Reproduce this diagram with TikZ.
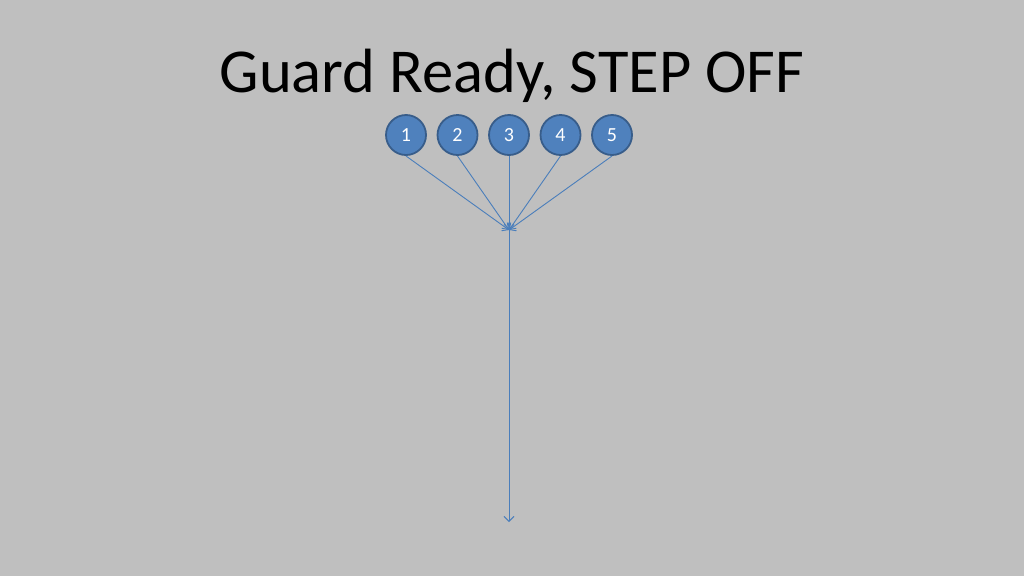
\documentclass[tikz,border=0pt]{standalone}
\usepackage{fontspec}
\setmainfont{Carlito}
\usetikzlibrary{arrows.meta}
\definecolor{bg}{HTML}{BFBFBF}
\definecolor{pfill}{HTML}{4F81BD}
\definecolor{pline}{HTML}{385D8A}
\definecolor{arr}{HTML}{4A7EBB}
\tikzset{
  player/.style={circle, fill=pfill, draw=pline, line width=1.8pt, minimum size=40pt, inner sep=0pt, text=white, font=\fontsize{20}{20}\selectfont},
  route/.style={draw=arr, line width=0.9pt, -{Straight Barb[length=5pt,width=10pt]}}
}
\begin{document}
\begin{tikzpicture}[x=1pt,y=-1pt]
\fill[bg] (0,0) rectangle (1024,576);
\useasboundingbox (0,0) rectangle (1024,576);
\node[font=\fontsize{62.5}{62.5}\selectfont, anchor=base, inner sep=0pt] (title) at (512,92) {Guard Ready, STEP OFF};
\node[player] (p1) at (406,135) {1};
\node[player] (p2) at (457.5,135) {2};
\node[player] (p3) at (509,135) {3};
\node[player] (p4) at (560.5,135) {4};
\node[player] (p5) at (612,135) {5};
\coordinate (m) at (509,230);
\coordinate (e) at (509,522);
\draw[route] (p1.center) ++(0,21) -- (m);
\draw[route] (p2.center) ++(0,21) -- (m);
\draw[route] (p3.south) -- (m);
\draw[route] (p4.center) ++(0,21) -- (m);
\draw[route] (p5.center) ++(0,21) -- (m);
\draw[route] (m) -- (e);
\end{tikzpicture}
\end{document}
